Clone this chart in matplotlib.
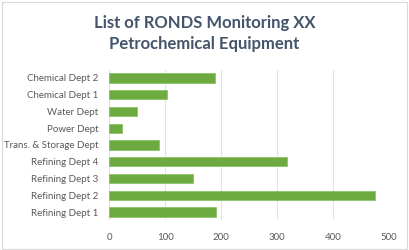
import matplotlib

matplotlib.use("Agg")
import matplotlib.pyplot as plt
from matplotlib.patches import Rectangle

# data (bottom to top)
departments = [
    "Refining Dept 1",
    "Refining Dept 2",
    "Refining Dept 3",
    "Refining Dept 4",
    "Trans. & Storage Dept",
    "Power Dept",
    "Water Dept",
    "Chemical Dept 1",
    "Chemical Dept 2",
]
counts = [191, 475, 150, 317, 88, 23, 49, 103, 189]
xticks = [0, 100, 200, 300, 400, 500]

plt.rcParams["font.family"] = ["Lato", "DejaVu Sans"]

fig = plt.figure(figsize=(4.09, 2.5), dpi=100)
ax = fig.add_axes([0.2677, 0.1184, 0.951 - 0.2677, 0.7216 - 0.1184])

ax.barh(range(len(departments)), counts, height=0.56, color="#6DAB41",
        edgecolor="#8CC46A", linewidth=0.6, zorder=3)

ax.set_xlim(0, 500)
ax.set_ylim(-0.5, len(departments) - 0.5)
ax.set_xticks(xticks)
ax.set_yticks(range(len(departments)))
ax.set_yticklabels(departments)
ax.tick_params(axis="both", length=0, labelsize=7, colors="#595959")
ax.tick_params(axis="x", pad=9)
ax.tick_params(axis="y", pad=8)
ax.grid(axis="x", color="#E3E3E3", linewidth=0.8, zorder=0)
for s in ax.spines.values():
    s.set_visible(False)

fig.text(0.5, 0.866, "List of RONDS Monitoring XX\nPetrochemical Equipment",
         ha="center", va="center", fontsize=12, fontweight="bold",
         color="#44546A", linespacing=1.45)

# chart border
fig.patches.append(Rectangle((0.004, 0.006), 0.99, 0.988, transform=fig.transFigure,
                             fill=False, edgecolor="#D9D9D9", linewidth=0.8))

fig.savefig("out.png", dpi=100)
